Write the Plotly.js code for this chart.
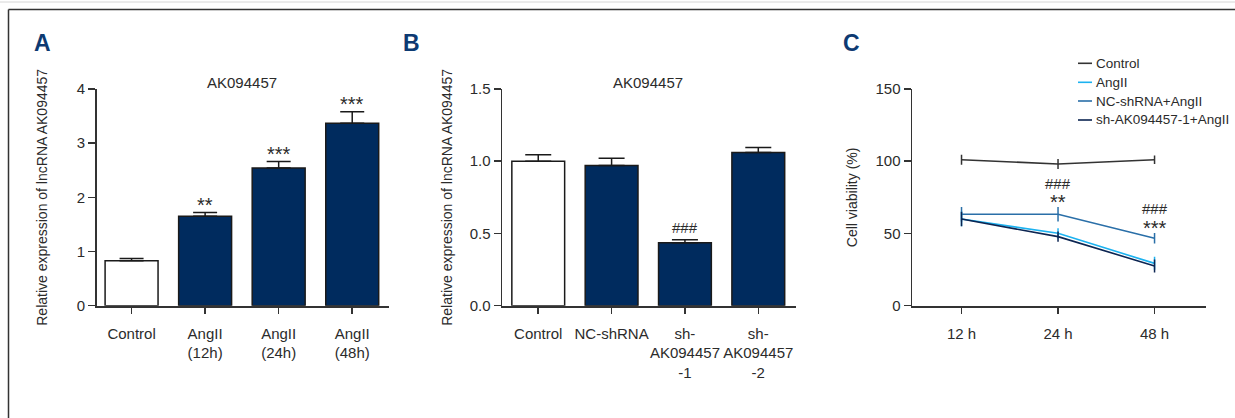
<!DOCTYPE html>
<html>
<head>
<meta charset="utf-8">
<script src="https://cdn.plot.ly/plotly-3.0.1.min.js"></script>
<style>html,body{margin:0;padding:0;background:#fff;}#chart{width:1235px;height:418px;}</style>
</head>
<body>
<div id="chart"></div>
<script>
// ---------- DATA ----------
const catA = ['Control', 'AngII<br>(12h)', 'AngII<br>(24h)', 'AngII<br>(48h)'];
const valA = [0.83, 1.65, 2.54, 3.37];
const errA = [0.04, 0.07, 0.12, 0.21];
const sigA = ['', '**', '***', '***'];

const catB = ['Control', 'NC-shRNA', 'sh-<br>AK094457<br>-1', 'sh-<br>AK094457<br>-2'];
const valB = [1.00, 0.97, 0.436, 1.06];
const errB = [0.045, 0.05, 0.02, 0.035];
const sigB = ['', '', '###', ''];

const timeC = ['12 h', '24 h', '48 h'];
const seriesNames = ['Control', 'AngII', 'NC-shRNA+AngII', 'sh-AK094457-1+AngII'];
const ctrlC = [101, 98.1, 101];
const ctrlErr = [3.5, 3.5, 3];
const angC = [60, 50.1, 29.3];
const angErr = [5, 3.5, 4.5];
const ncC = [63.3, 63.3, 46.7];
const ncErr = [5, 5, 3.7];
const shC = [60, 47.8, 27.5];
const shErr = [5, 3.5, 4.5];
const sigHashC = ['', '###', '###'];
const sigStarC = ['', '**', '***'];

// ---------- STYLE ----------
const FONT = 'Liberation Sans, Arial, sans-serif';
const TXT = '#2b2b2b';
const NAVY = '#002b5e';
const lineColors = ['#333333', '#1cb2f0', '#2a6fa8', '#0c2552'];
const W = 1235, H = 418;
const px = x => x / W;
const py = y => 1 - y / H;

const tickFont = {family: FONT, size: 15, color: TXT};
function yAx(extra) {
  return Object.assign({
    showline: true, linecolor: '#333', linewidth: 1.8,
    ticks: 'outside', ticklen: 7, tickwidth: 1.5, tickcolor: '#333',
    showgrid: false, zeroline: false, tickfont: tickFont, automargin: false,
    domain: [py(305.7), py(89)], fixedrange: true
  }, extra);
}
function xAx(extra) {
  return Object.assign({
    type: 'category', showline: true, linecolor: '#333', linewidth: 1.8,
    ticks: 'outside', ticklen: 6, tickwidth: 1.5, tickcolor: '#333',
    showgrid: false, zeroline: false, tickfont: tickFont, tickangle: 0, automargin: false,
    ticklabelstandoff: 7, fixedrange: true
  }, extra);
}

const traces = [];
traces.push({
  type: 'bar', x: catA, y: valA, xaxis: 'x', yaxis: 'y', width: 0.72,
  marker: {color: valA.map((v, i) => i === 0 ? '#ffffff' : NAVY), line: {color: '#1a1a1a', width: 1.5}},
  error_y: {type: 'data', symmetric: false, array: errA, arrayminus: errA.map(() => 0), color: '#1a1a1a', thickness: 1.5, width: 12},
  showlegend: false, hoverinfo: 'skip'
});
traces.push({
  type: 'bar', x: catB, y: valB, xaxis: 'x2', yaxis: 'y2', width: 0.72,
  marker: {color: valB.map((v, i) => i === 0 ? '#ffffff' : NAVY), line: {color: '#1a1a1a', width: 1.5}},
  error_y: {type: 'data', symmetric: false, array: errB, arrayminus: errB.map(() => 0), color: '#1a1a1a', thickness: 1.5, width: 13},
  showlegend: false, hoverinfo: 'skip'
});
const cVals = [ctrlC, angC, ncC, shC];
const cErrs = [ctrlErr, angErr, ncErr, shErr];
[0, 2, 1, 3].forEach(i => {
  traces.push({
    type: 'scatter', mode: 'lines', x: timeC, y: cVals[i], xaxis: 'x3', yaxis: 'y3',
    name: seriesNames[i], line: {color: lineColors[i], width: 1.6},
    error_y: {type: 'data', array: cErrs[i], color: lineColors[i], thickness: 1.5, width: 0},
    showlegend: false, hoverinfo: 'skip'
  });
});

const annotations = [];
const starFont = {family: FONT, size: 20, color: TXT};
const hashFont = {family: FONT, size: 15, color: TXT};
// panel letters
[['A', 42], ['B', 411], ['C', 851]].forEach(([t, x]) => {
  annotations.push({text: t, xref: 'paper', yref: 'paper', x: px(x), y: py(43), xanchor: 'center', yanchor: 'middle',
    showarrow: false, font: {family: FONT, size: 23, color: '#0d3a72', weight: 'bold'}});
});
// chart titles
[['AK094457', 241.7], ['AK094457', 648]].forEach(([t, x]) => {
  annotations.push({text: t, xref: 'paper', yref: 'paper', x: px(x), y: py(83), xanchor: 'center', yanchor: 'middle',
    showarrow: false, font: {family: FONT, size: 15, color: TXT}});
});
// significance marks
sigA.forEach((s, i) => { if (s) annotations.push({text: s, x: catA[i], y: valA[i] + errA[i], xref: 'x', yref: 'y', yanchor: 'middle', yshift: 8, showarrow: false, font: starFont}); });
sigB.forEach((s, i) => { if (s) annotations.push({text: s, x: catB[i], y: valB[i] + errB[i], xref: 'x2', yref: 'y2', yanchor: 'middle', yshift: 12, showarrow: false, font: hashFont}); });
sigStarC.forEach((s, i) => { if (s) annotations.push({text: s, x: timeC[i], y: ncC[i] + ncErr[i], xref: 'x3', yref: 'y3', yanchor: 'middle', yshift: 5, showarrow: false, font: starFont}); });
sigHashC.forEach((s, i) => { if (s) annotations.push({text: s, x: timeC[i], y: ncC[i] + ncErr[i], xref: 'x3', yref: 'y3', yanchor: 'middle', yshift: 24, showarrow: false, font: hashFont}); });

// manual legend for C
const shapes = [];
const legY = [63.3, 82.3, 101, 120];
seriesNames.forEach((n, i) => {
  shapes.push({type: 'line', xref: 'paper', yref: 'paper', x0: px(1078), x1: px(1092), y0: py(legY[i]), y1: py(legY[i]), line: {color: lineColors[i], width: 1.6}});
  annotations.push({text: n, xref: 'paper', yref: 'paper', x: px(1094), y: py(legY[i]), xanchor: 'left', yanchor: 'middle',
    showarrow: false, font: {family: FONT, size: 13.5, color: TXT}});
});
// frame
shapes.push({type: 'line', xref: 'paper', yref: 'paper', x0: 0, x1: 1, y0: py(2), y1: py(2), line: {color: '#d6d6d6', width: 1}});
shapes.push({type: 'line', xref: 'paper', yref: 'paper', x0: px(8.5), x1: 1, y0: py(9.5), y1: py(9.5), line: {color: '#333', width: 1.5}});
shapes.push({type: 'line', xref: 'paper', yref: 'paper', x0: px(8.5), x1: px(8.5), y0: py(9.5), y1: 0, line: {color: '#333', width: 1.5}});

const titleFont = {family: FONT, size: 14, color: TXT};
const layout = {
  width: W, height: H, margin: {l: 0, r: 0, t: 0, b: 0},
  paper_bgcolor: '#fff', plot_bgcolor: 'rgba(0,0,0,0)', showlegend: false,
  xaxis: xAx({domain: [px(97), px(389)], range: [-0.47, 3.5], anchor: 'y'}),
  yaxis: yAx({range: [0, 4], dtick: 1, anchor: 'x', title: {text: 'Relative expression of lncRNA AK094457', font: titleFont, standoff: 26}}),
  xaxis2: xAx({domain: [px(502.3), px(795.7)], range: [-0.49, 3.51], anchor: 'y2'}),
  yaxis2: yAx({range: [0, 1.5], dtick: 0.5, tickformat: '.1f', anchor: 'x2', title: {text: 'Relative expression of lncRNA AK094457', font: titleFont, standoff: 14}}),
  xaxis3: xAx({domain: [px(912.3), px(1205.7)], range: [-0.51, 2.53], anchor: 'y3'}),
  yaxis3: yAx({range: [0, 150], dtick: 50, anchor: 'x3', title: {text: 'Cell viability (%)', font: titleFont, standoff: 14}}),
  annotations: annotations, shapes: shapes
};
Plotly.newPlot('chart', traces, layout, {staticPlot: true, displayModeBar: false});
</script>
</body>
</html>
